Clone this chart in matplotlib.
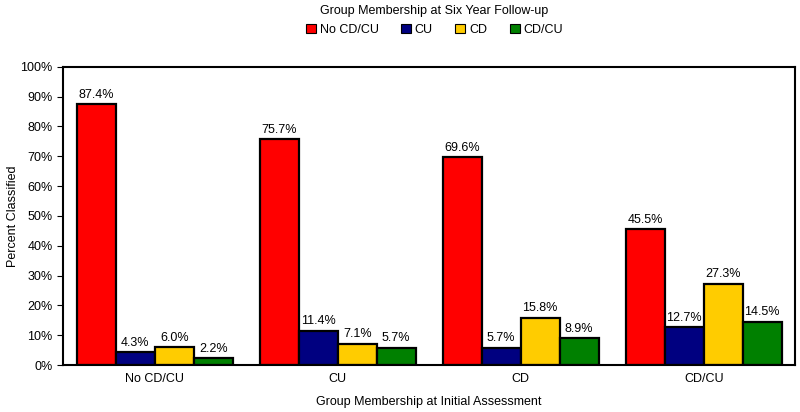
import numpy as np
import matplotlib.pyplot as plt
from matplotlib.ticker import PercentFormatter

plt.rcParams["font.family"] = ["Liberation Sans", "DejaVu Sans"]
plt.rcParams["font.size"] = 9

groups = ["No CD/CU", "CU", "CD", "CD/CU"]
series = ["No CD/CU", "CU", "CD", "CD/CU"]
colors = ["#ff0000", "#000080", "#ffcc00", "#008000"]
values = [
    [87.4, 75.7, 69.6, 45.5],  # No CD/CU
    [4.3, 11.4, 5.7, 12.7],    # CU
    [6.0, 7.1, 15.8, 27.3],    # CD
    [2.2, 5.7, 8.9, 14.5],     # CD/CU
]

fig = plt.figure(figsize=(8, 4.12), dpi=100)
ax = fig.add_axes([0.079, 0.114, 0.915, 0.724])

x = np.arange(len(groups))
w = 0.213
for i, (name, vals) in enumerate(zip(series, values)):
    pos = x + (i - 1.5) * w
    ax.bar(pos, vals, w, color=colors[i], edgecolor="black", linewidth=1.6, label=name)
    for p, v in zip(pos, vals):
        ax.text(p, v + 1.2, f"{v:.1f}%", ha="center", va="bottom", fontsize=9)

ax.set_xlim(-0.5, 3.5)
ax.set_ylim(0, 100)
ax.set_yticks(range(0, 101, 10))
ax.yaxis.set_major_formatter(PercentFormatter(decimals=0))
ax.set_xticks(x)
ax.set_xticklabels(groups)
ax.tick_params(axis="x", length=0, pad=6)
ax.tick_params(axis="y", length=4, direction="out")
for s in ax.spines.values():
    s.set_linewidth(1.5)

ax.set_ylabel("Percent Classified")
ax.yaxis.set_label_coords(-0.061, 0.5)
ax.set_xlabel("Group Membership at Initial Assessment", labelpad=8)

fig.text(0.543, 0.973, "Group Membership at Six Year Follow-up", ha="center", va="center", fontsize=9)
leg = fig.legend(loc="center", bbox_to_anchor=(0.543, 0.928), ncol=4, frameon=False,
                 handlelength=0.8, handleheight=0.8, handletextpad=0.3, columnspacing=1.8,
                 fontsize=9)
for h in leg.legend_handles:
    h.set_linewidth(0.8)

fig.savefig("out.png", dpi=100)
